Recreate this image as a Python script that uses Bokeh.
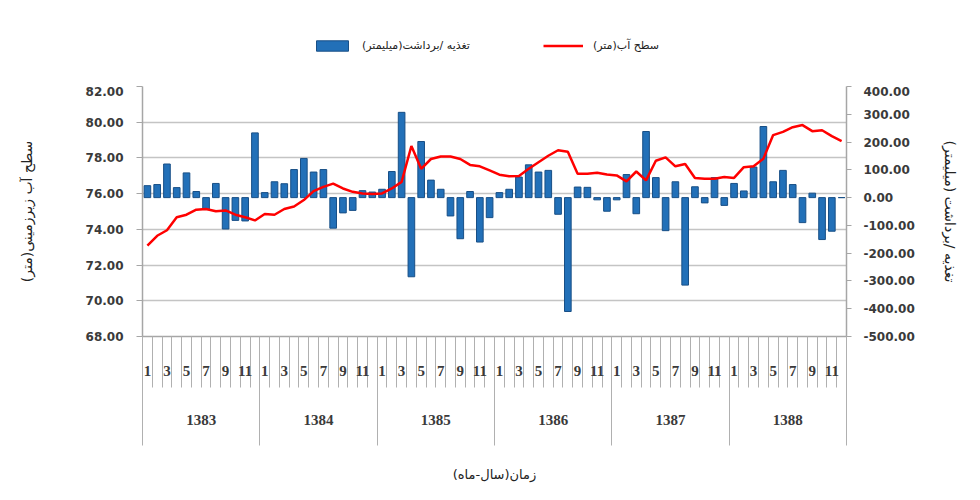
import math
from bokeh.plotting import figure
from bokeh.layouts import column
from bokeh.models import (Range1d, LinearAxis, FixedTicker, NumeralTickFormatter,
                          Legend, LegendItem, ColumnDataSource)
from bokeh.embed import file_html
from bokeh.resources import INLINE

# ---------------- data ----------------
years = ["1383", "1384", "1385", "1386", "1387", "1388"]
month_labels = ["1", "", "3", "", "5", "", "7", "", "9", "", "11", ""]

# recharge / discharge (mm), right axis
recharge_mm = [
    43, 47, 121, 36, 89, 22, -43, 51, -113, -82, -84, 233,        # 1383
    18, 57, 50, 101, 141, 92, 101, -110, -55, -46, 25, 20,        # 1384
    30, 94, 307, -285, 202, 63, 30, -66, -148, 22, -160, -72,     # 1385
    18, 30, 74, 118, 92, 98, -60, -410, 38, 37, -8, -49,          # 1386
    -8, 83, -58, 238, 72, -119, 57, -315, 39, -19, 72, -28,       # 1387
    51, 24, 110, 256, 57, 98, 47, -90, 16, -151, -121, 0,         # 1388
]

# groundwater level (m), left axis
water_level_m = [
    73.09, 73.64, 73.95, 74.68, 74.82, 75.10, 75.14, 75.01, 75.06, 74.82, 74.68, 74.50,
    74.86, 74.82, 75.14, 75.28, 75.64, 76.14, 76.38, 76.56, 76.29, 76.10, 76.01, 75.98,
    76.01, 76.29, 76.66, 78.67, 77.39, 77.94, 78.08, 78.08, 77.94, 77.61, 77.53, 77.30,
    77.06, 76.97, 76.99, 77.39, 77.76, 78.12, 78.43, 78.34, 77.11, 77.11, 77.17, 77.07,
    77.02, 76.69, 77.24, 76.74, 77.84, 78.03, 77.53, 77.66, 76.88, 76.84, 76.84, 76.93,
    76.88, 77.48, 77.53, 77.96, 79.28, 79.46, 79.72, 79.84, 79.50, 79.55, 79.22, 78.94,
]

left_ticks = [68, 70, 72, 74, 76, 78, 80, 82]
right_ticks = [-500, -400, -300, -200, -100, 0, 100, 200, 300, 400]

legend_bar = "تغذیه /برداشت(میلیمتر)"
legend_line = "سطح آب(متر)"
left_title = "سطح آب زیرزمینی(متر)"
right_title = "تغذیه /برداشت (میلیمتر)"
x_title = "زمان(سال-ماه)"

# ---------------- styles ----------------
n_m = len(month_labels)
n = len(years) * n_m
xs = [i + 0.5 for i in range(n)]
src = ColumnDataSource(dict(x=xs, mm=recharge_mm, lvl=water_level_m))

AX = "#a6a6a6"
TXT = "#3a3a3a"
FA = "DejaVu Sans"
BAR = dict(fill_color="#2270b8", line_color="#184f86", line_width=1)
LINE = dict(line_color="#ff0000", line_width=2.5)

# ---------------- legend strip (top) ----------------
# the strip's ranges lie far outside the data, so its renderers only feed the legend swatches
lf = figure(width=964, height=86, output_backend="svg", toolbar_location=None,
            x_range=Range1d(-3, -2), y_range=Range1d(10000, 10001),
            x_axis_location=None, y_axis_location=None,
            min_border_left=0, min_border_right=0, min_border_top=0, min_border_bottom=0)
lf.outline_line_color = None
lf.xgrid.visible = False
lf.ygrid.visible = False
lbar = lf.vbar(x="x", top="mm", width=0.68, source=src, **BAR)
lline = lf.line(x="x", y="lvl", source=src, **LINE)
legend = Legend(items=[LegendItem(label=legend_bar, renderers=[lbar]),
                       LegendItem(label=legend_line, renderers=[lline])],
                orientation="horizontal", location=(170, 34),
                glyph_width=40, glyph_height=13, label_standoff=10, spacing=73,
                border_line_color=None, background_fill_alpha=0,
                label_text_font=FA, label_text_font_size="11px", label_text_color="#222222")
lf.add_layout(legend)

# ---------------- main chart ----------------
p = figure(width=964, height=398, output_backend="svg", toolbar_location=None,
           x_range=Range1d(0, n), y_range=Range1d(left_ticks[0], left_ticks[-1]),
           min_border_left=142, min_border_right=118, min_border_top=0, min_border_bottom=142)
p.extra_y_ranges = {"mm": Range1d(right_ticks[0], right_ticks[-1])}
p.outline_line_color = None
p.background_fill_color = "white"
p.border_fill_color = "white"

bars = p.vbar(x="x", top="mm", bottom=0, width=0.68, source=src, y_range_name="mm", **BAR)
line = p.line(x="x", y="lvl", source=src, **LINE)

# grids
p.xgrid.visible = False
p.ygrid.grid_line_color = "#c4c4c4"
p.ygrid.grid_line_width = 1.5

# left axis
ly = p.yaxis[0]
ly.ticker = FixedTicker(ticks=left_ticks)
ly.formatter = NumeralTickFormatter(format="0.00")
ly.major_tick_out = 6
ly.major_tick_in = 0
ly.minor_tick_line_color = None
ly.axis_line_color = AX
ly.axis_line_width = 1.5
ly.major_tick_line_color = AX
ly.major_label_standoff = 13
ly.major_label_text_font = FA
ly.major_label_text_font_style = "bold"
ly.major_label_text_font_size = "12px"
ly.major_label_text_color = TXT
ly.axis_label = left_title
ly.axis_label_standoff = 48
ly.axis_label_text_font = FA
ly.axis_label_text_font_style = "normal"
ly.axis_label_text_font_size = "14px"
ly.axis_label_text_color = "#222222"

# right axis
ry = LinearAxis(y_range_name="mm", ticker=FixedTicker(ticks=right_ticks),
                formatter=NumeralTickFormatter(format="0.00"))
ry.major_tick_out = 5
ry.major_tick_in = 0
ry.minor_tick_line_color = None
ry.axis_line_color = AX
ry.axis_line_width = 1.5
ry.major_tick_line_color = AX
ry.major_label_standoff = 12
ry.major_label_text_align = "left"
ry.major_label_text_font = FA
ry.major_label_text_font_style = "bold"
ry.major_label_text_font_size = "12px"
ry.major_label_text_color = TXT
ry.axis_label = right_title
ry.axis_label_standoff = 24
ry.axis_label_text_font = FA
ry.axis_label_text_font_style = "normal"
ry.axis_label_text_font_size = "14px"
ry.axis_label_text_color = "#222222"
p.add_layout(ry, "right")

# month axis (first row of the category table)
mx = p.xaxis[0]
mx.ticker = FixedTicker(ticks=xs, minor_ticks=list(range(n + 1)))
mx.major_label_overrides = {xv: month_labels[i % n_m] for i, xv in enumerate(xs)}
mx.major_tick_out = 0
mx.major_tick_in = 0
mx.major_tick_line_color = None
mx.minor_tick_in = 0
mx.minor_tick_out = 51
mx.minor_tick_line_color = "#b0b0b0"
mx.minor_tick_line_width = 1
mx.axis_line_color = AX
mx.axis_line_width = 1.5
mx.major_label_standoff = -22
mx.major_label_text_font = "Liberation Serif"
mx.major_label_text_font_style = "bold"
mx.major_label_text_font_size = "15px"
mx.major_label_text_color = TXT

# year axis (second row of the category table)
year_ticks = [k * n_m + n_m / 2 for k in range(len(years))]
yx = LinearAxis(ticker=FixedTicker(ticks=year_ticks,
                                   minor_ticks=[k * n_m for k in range(len(years) + 1)]))
yx.major_label_overrides = {t: years[k] for k, t in enumerate(year_ticks)}
yx.axis_line_color = None
yx.major_tick_out = 0
yx.major_tick_in = 0
yx.major_tick_line_color = None
yx.minor_tick_in = 35
yx.minor_tick_out = 67
yx.minor_tick_line_color = "#b0b0b0"
yx.minor_tick_line_width = 1
yx.major_label_standoff = -31
yx.major_label_text_font = "Liberation Serif"
yx.major_label_text_font_style = "bold"
yx.major_label_text_font_size = "15px"
yx.major_label_text_color = TXT
yx.axis_label = x_title
yx.axis_label_standoff = 39
yx.axis_label_text_font = FA
yx.axis_label_text_font_style = "normal"
yx.axis_label_text_font_size = "13px"
yx.axis_label_text_color = "#222222"
p.add_layout(yx, "below")

layout = column(lf, p, spacing=0)
open("out.html", "w").write(file_html(layout, INLINE))
